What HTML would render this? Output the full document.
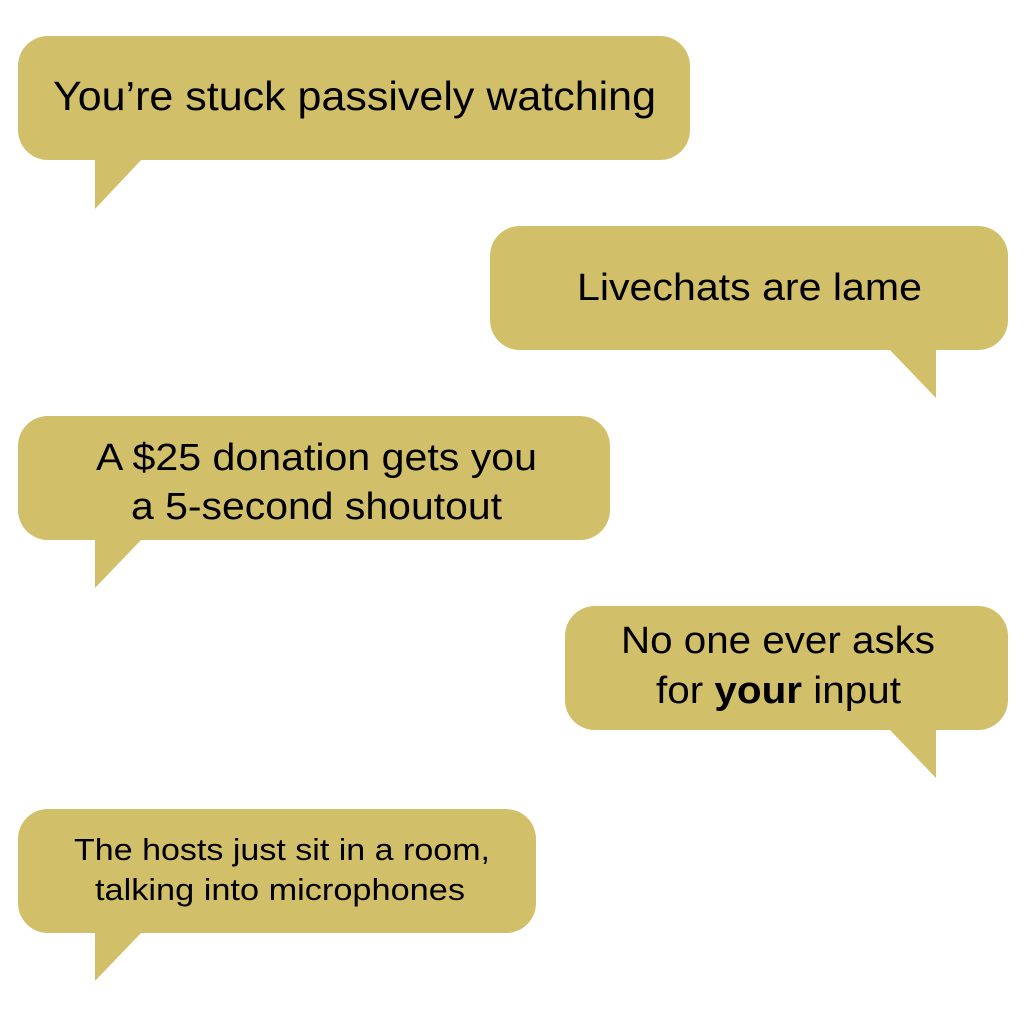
<!DOCTYPE html>
<html><head><meta charset="utf-8"><style>
html,body{margin:0;padding:0;background:#fff;}
svg{display:block;}
text{font-family:"Liberation Sans",sans-serif;fill:#000;}
</style></head><body>
<svg width="1024" height="1024" viewBox="0 0 1024 1024" xmlns="http://www.w3.org/2000/svg">
<g fill="#D2BF6A">
<rect x="18" y="36" width="672" height="124" rx="30"/>
<polygon points="95,158 95,209 143,158"/>
<rect x="490" y="226" width="518" height="124" rx="30"/>
<polygon points="888,348 936,398 936,348"/>
<rect x="18" y="416" width="592" height="124" rx="30"/>
<polygon points="95,538 95,588 143,538"/>
<rect x="565" y="606" width="443" height="124" rx="30"/>
<polygon points="888,728 936,778 936,728"/>
<rect x="18" y="809" width="518" height="124" rx="30"/>
<polygon points="95,931 95,981 143,931"/>
</g>
<text x="53" y="110" font-size="41" textLength="603" lengthAdjust="spacingAndGlyphs">You’re stuck passively watching</text>
<text x="577" y="300" font-size="38" textLength="345" lengthAdjust="spacingAndGlyphs">Livechats are lame</text>
<text x="96" y="470" font-size="38" textLength="441" lengthAdjust="spacingAndGlyphs">A $25 donation gets you</text>
<text x="131" y="519" font-size="38" textLength="371" lengthAdjust="spacingAndGlyphs">a 5-second shoutout</text>
<text x="621" y="653" font-size="38" textLength="314" lengthAdjust="spacingAndGlyphs">No one ever asks</text>
<text x="656" y="703" font-size="38" textLength="245" lengthAdjust="spacingAndGlyphs">for <tspan font-weight="bold">your</tspan> input</text>
<text x="74" y="860" font-size="31" textLength="416" lengthAdjust="spacingAndGlyphs">The hosts just sit in a room,</text>
<text x="95" y="900" font-size="31" textLength="370" lengthAdjust="spacingAndGlyphs">talking into microphones</text>
</svg>
</body></html>
